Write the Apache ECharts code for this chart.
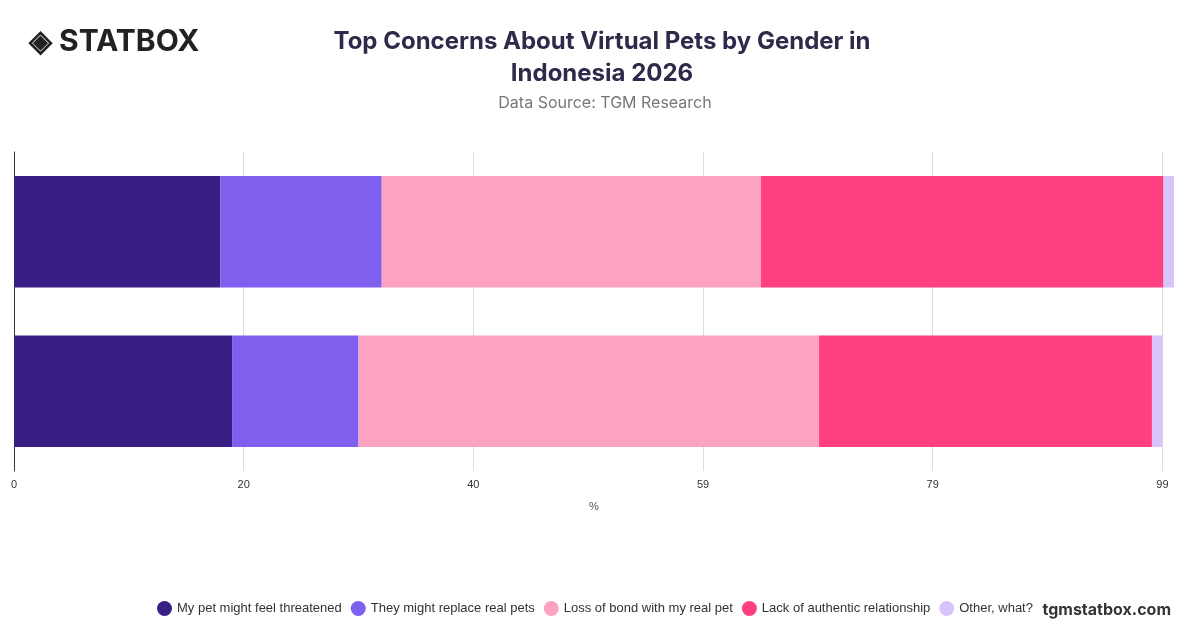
<!DOCTYPE html>
<html><head><meta charset="utf-8">
<script src="https://cdn.jsdelivr.net/npm/echarts@6/dist/echarts.min.js"></script>
<style>html,body{margin:0;padding:0;background:#fff}#c{width:1200px;height:628px}</style>
</head><body><div id="c"></div>
<script>
const categories = ['Male', 'Female'];
const seriesNames = ['My pet might feel threatened','They might replace real pets','Loss of bond with my real pet','Lack of authentic relationship','Other, what?'];
const threatened = [18.8, 17.8];
const replace = [10.9, 13.9];
const lossBond = [39.7, 32.7];
const lackAuth = [28.7, 34.7];
const other = [0.9, 1.0];
const colors = ['#371F85','#7F5FEE','#FCA3C3','#FE3F80','#D8C3FB'];
const values = [threatened, replace, lossBond, lackAuth, other];

const chart = echarts.init(document.getElementById('c'));
chart.setOption({
  animation:false,
  title:[{text:'Top Concerns About Virtual Pets by Gender in\nIndonesia 2026',left:597,top:21,textAlign:'center',
    textStyle:{fontFamily:'Inter',fontSize:24,fontWeight:'bold',color:'#2D2A4A',lineHeight:32}},
    {text:'Data Source: TGM Research',left:600,top:90,textAlign:'center',textStyle:{fontFamily:'Inter',fontSize:16,fontWeight:'normal',color:'#777'}},
    {text:'◈ STATBOX',left:24,top:22,textStyle:{fontFamily:'Inter',fontSize:30,fontWeight:'bold',color:'#222'}},
    {text:'tgmstatbox.com',right:24,top:597,textStyle:{fontFamily:'Inter',fontSize:16,fontWeight:'bold',color:'#333'}}],
  legend:{top:596,left:152,itemWidth:15,itemHeight:15,icon:'circle',itemGap:9,
    textStyle:{fontFamily:'Liberation Sans',fontSize:13,color:'#333'}},
  grid:{left:14,right:26,top:152,bottom:157},
  xAxis:{type:'value',min:0,max:100,interval:19.8,name:'%',nameLocation:'middle',nameGap:30,
    nameTextStyle:{fontSize:11,color:'#555'},
    axisLabel:{showMaxLabel:false,fontSize:11,color:'#333',formatter:v=>Math.round(v)},
    splitLine:{showMaxLine:false,lineStyle:{color:'#ddd'}}},
  yAxis:{type:'category',data:categories,axisLabel:{show:false},axisTick:{show:false},
    axisLine:{show:true,lineStyle:{color:'#333'}}},
  series: seriesNames.map((n,i)=>({name:n,type:'bar',stack:'s',data:values[i],barWidth:'70%',
    itemStyle:{color:colors[i]}}))
});
</script></body></html>
